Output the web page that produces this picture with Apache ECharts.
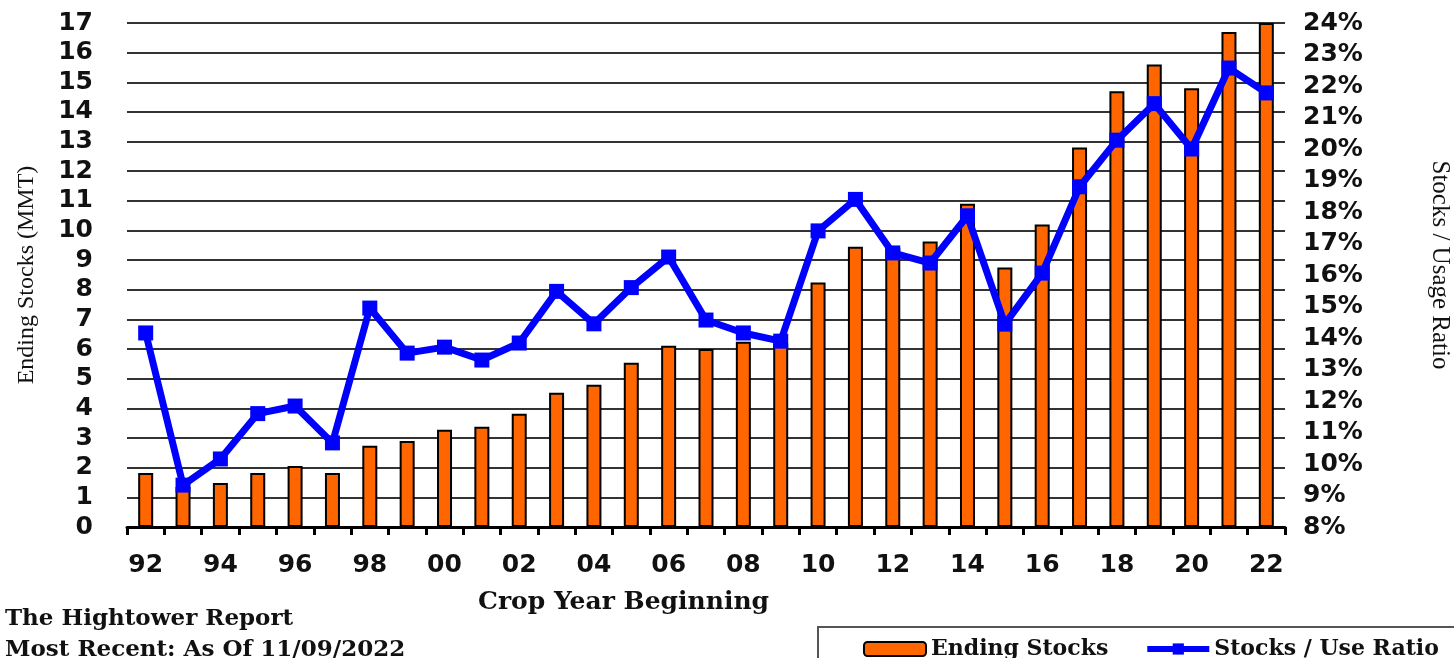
<!DOCTYPE html>
<html>
<head>
<meta charset="utf-8">
<script src="https://cdn.jsdelivr.net/npm/echarts@6/dist/echarts.min.js"></script>
<style>
html,body{margin:0;padding:0;background:#fff;}
#chart{width:1454px;height:658px;}
</style>
</head>
<body>
<div id="chart"></div>
<script>
const years = ['92','93','94','95','96','97','98','99','00','01','02','03','04','05','06','07','08','09','10','11','12','13','14','15','16','17','18','19','20','21','22'];
const endingStocks = [1.82,1.35,1.48,1.82,2.06,1.82,2.74,2.9,3.28,3.38,3.82,4.53,4.8,5.54,6.11,6.0,6.25,6.2,8.25,9.45,9.4,9.63,10.9,8.75,10.2,12.8,14.7,15.6,14.8,16.7,17.0];
const stocksUseRatio = [14.16,9.33,10.16,11.6,11.84,10.67,14.95,13.52,13.71,13.3,13.84,15.48,14.45,15.6,16.57,14.57,14.16,13.9,17.4,18.4,16.7,16.38,17.88,14.44,16.06,18.8,20.28,21.44,20.0,22.57,21.78];
const leftTicks = {min:0, max:17, interval:1};
const rightTicks = {min:8, max:24, interval:1};

const serif = '"DejaVu Serif", serif';
const sans = '"DejaVu Sans", sans-serif';

const chart = echarts.init(document.getElementById('chart'));
chart.setOption({
  animation: false,
  backgroundColor: '#fff',
  grid: {left:127, right:169, top:23, bottom:131},
  legend: {
    left: 858, top: 633,
    itemWidth: 62, itemHeight: 14, itemGap: 36,
    textStyle: {fontFamily: serif, fontWeight: 'bold', fontSize: 22, color: '#111'},
    data: [
      {name: 'Ending Stocks'},
      {name: 'Stocks / Use Ratio', lineStyle: {width: 6, color: '#0000FF'}}
    ]
  },
  xAxis: {
    type: 'category',
    data: years,
    boundaryGap: true,
    axisLine: {show: true, lineStyle: {color: '#000', width: 3}},
    axisTick: {show: true, alignWithLabel: false, interval: 0, length: 8, lineStyle: {color: '#000', width: 3}},
    axisLabel: {interval: 1, margin: 26, fontFamily: sans, fontWeight: 'bold', fontSize: 25, color: '#111'}
  },
  yAxis: [
    {
      type: 'value', position: 'left',
      min: leftTicks.min, max: leftTicks.max, interval: leftTicks.interval,
      name: 'Ending Stocks (MMT)', nameLocation: 'middle', nameGap: 88, nameRotate: 90,
      nameTextStyle: {fontFamily: '"Liberation Serif", serif', fontSize: 24, color: '#111'},
      axisLine: {show: false}, axisTick: {show: false},
      axisLabel: {margin: 34, fontFamily: sans, fontWeight: 'bold', fontSize: 25, color: '#111'},
      splitLine: {show: true, lineStyle: {color: '#333', width: 2}}
    },
    {
      type: 'value', position: 'right',
      min: rightTicks.min, max: rightTicks.max, interval: rightTicks.interval,
      axisLine: {show: false}, axisTick: {show: false},
      axisLabel: {margin: 18, fontFamily: sans, fontWeight: 'bold', fontSize: 25, color: '#111', formatter: '{value}%'},
      splitLine: {show: false}
    }
  ],
  series: [
    {
      name: 'Ending Stocks', type: 'bar', yAxisIndex: 0,
      data: endingStocks, barWidth: 15,
      itemStyle: {color: '#FF6600', borderColor: '#000', borderWidth: 2}
    },
    {
      name: 'Stocks / Use Ratio', type: 'line', yAxisIndex: 1,
      data: stocksUseRatio,
      symbol: 'rect', symbolSize: 15,
      lineStyle: {color: '#0000FF', width: 7},
      itemStyle: {color: '#0000FF'}
    }
  ],
  graphic: [
    {type: 'text', x: 1440, y: 265, rotation: -Math.PI / 2,
     style: {text: 'Stocks / Usage Ratio', font: '25px "Liberation Serif", serif', fill: '#111', align: 'center', verticalAlign: 'middle'}},
    {type: 'text', left: 478, top: 590, style: {text: 'Crop Year Beginning', font: 'bold 25px "DejaVu Serif", serif', fill: '#111'}},
    {type: 'text', left: 5, top: 608, style: {text: 'The Hightower Report', font: 'bold 23px "DejaVu Serif", serif', fill: '#111'}},
    {type: 'text', left: 5, top: 639, style: {text: 'Most Recent: As Of 11/09/2022', font: 'bold 23px "DejaVu Serif", serif', fill: '#111'}},
    {type: 'rect', shape: {x: 818, y: 627, width: 700, height: 100}, style: {fill: 'none', stroke: '#555', lineWidth: 2}, z: -1}
  ]
});
</script>
</body>
</html>
